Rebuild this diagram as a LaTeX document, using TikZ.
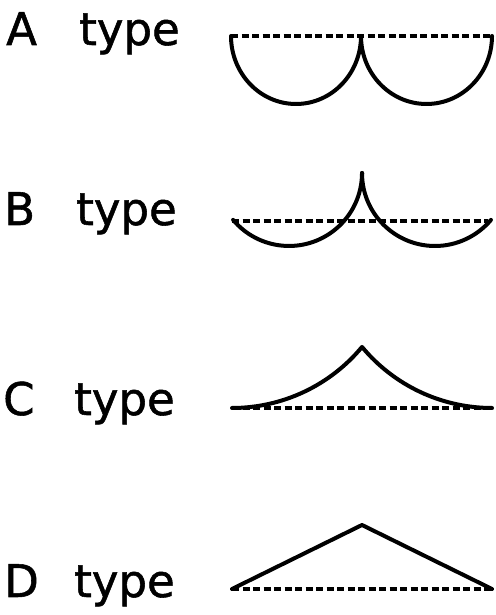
\documentclass[tikz,border=0pt]{standalone}
\usepackage{fontspec}
\setmainfont{DejaVu Sans}[FakeBold=1.2]
\begin{document}
\begin{tikzpicture}[x=1pt,y=1pt,
  lbl/.style={inner sep=0pt,anchor=base west,font=\fontsize{45}{45}\selectfont},
  solidline/.style={line width=4pt,line cap=round,line join=round},
  dashline/.style={line width=3.4pt,dash pattern=on 7pt off 3.5pt}]
\useasboundingbox (0,0) rectangle (495,615);
% labels
\node[lbl] (la) at (6,570) {A};
\node[lbl] (ta) at (79,570) {type};
\node[lbl] (lb) at (4,390) {B};
\node[lbl] (tb) at (76,390) {type};
\node[lbl] (lc) at (3,200) {C};
\node[lbl] (tc) at (74,200) {type};
\node[lbl] (ld) at (4,18) {D};
\node[lbl] (td) at (74,18) {type};
% A type
\draw[dashline] (231,579) -- (492,579);
\draw[solidline] (231,579) arc[start angle=180,end angle=360,x radius=65,y radius=68]
  arc[start angle=180,end angle=360,x radius=65.5,y radius=68];
% B type
\draw[dashline] (232,394) -- (488,394);
\draw[solidline] (233.1,395.1) arc[start angle=220,end angle=360,radius=73];
\draw[solidline] (362,442) arc[start angle=180,end angle=320,radius=73];
% C type
\draw[dashline] (232,207) -- (492,207);
\draw[solidline] (232,207) arc[start angle=270,end angle=320.3,radius=169]
  arc[start angle=219.7,end angle=270,radius=169];
% D type
\draw[dashline] (232,26) -- (492,26);
\draw[solidline] (232,26) -- (362,90) -- (492,26);
\end{tikzpicture}
\end{document}
